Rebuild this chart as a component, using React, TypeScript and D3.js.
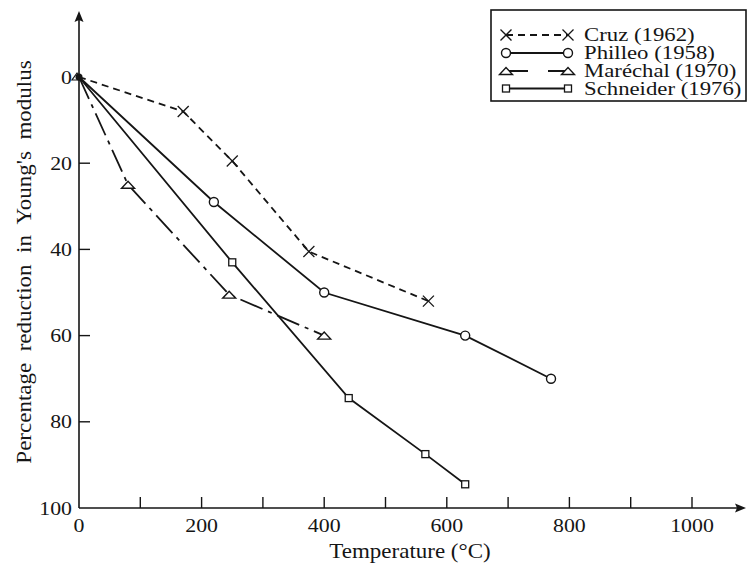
import React from "react";
import * as d3 from "d3";

const cruzT = [0, 170, 250, 375, 570];
const cruzR = [0, 8, 19.5, 40.5, 52];
const philleoT = [0, 220, 400, 630, 770];
const philleoR = [0, 29, 50, 60, 70];
const marechalT = [0, 80, 245, 400];
const marechalR = [0, 25, 50.5, 60];
const schneiderT = [0, 250, 440, 565, 630];
const schneiderR = [0, 43, 74.5, 87.5, 94.5];

const xTicks = [0, 200, 400, 600, 800, 1000];
const xMinor = [100, 200, 300, 400, 500, 600, 700, 800, 900, 1000];
const yTicks = [0, 20, 40, 60, 80, 100];

const seriesNames = ["Cruz (1962)", "Philleo (1958)", "Maréchal (1970)", "Schneider (1976)"];
const xLabel = "Temperature (°C)";
const yLabel = "Percentage  reduction  in  Young's  modulus";

const W = 747, H = 571;
const FONT = "'Liberation Serif', 'DejaVu Serif', serif";
const INK = "#151515";
const SX = 1.15;

type Kind = "x" | "circle" | "tri" | "square";

function Txt({
  x,
  y,
  size,
  anchor = "start",
  rotate = 0,
  children,
}: {
  x: number;
  y: number;
  size: number;
  anchor?: string;
  rotate?: number;
  children: React.ReactNode;
}) {
  return (
    <text
      transform={`translate(${x},${y}) rotate(${rotate}) scale(${SX},1)`}
      textAnchor={anchor}
      fontSize={size}
      fill={INK}
      style={{ whiteSpace: "pre" }}
    >
      {children}
    </text>
  );
}

function Marker({ kind, cx, cy }: { kind: Kind; cx: number; cy: number }) {
  if (kind === "x") {
    const s = 5.5;
    return (
      <g stroke={INK} strokeWidth={1.3}>
        <line x1={cx - s} y1={cy - s} x2={cx + s} y2={cy + s} />
        <line x1={cx - s} y1={cy + s} x2={cx + s} y2={cy - s} />
      </g>
    );
  }
  if (kind === "circle") {
    return <circle cx={cx} cy={cy} r={4.5} fill="white" stroke={INK} strokeWidth={1.4} />;
  }
  if (kind === "tri") {
    const w = 6.5, h = 7;
    return (
      <path
        d={`M${cx - w},${cy + h / 2} L${cx + w},${cy + h / 2} L${cx},${cy - h / 2} Z`}
        fill="white"
        stroke={INK}
        strokeWidth={1.4}
      />
    );
  }
  return <rect x={cx - 3.5} y={cy - 3.5} width={7} height={7} fill="white" stroke={INK} strokeWidth={1.3} />;
}

export default function App() {
  const x = d3.scaleLinear().domain([0, 1000]).range([79, 692]);
  const y = d3.scaleLinear().domain([0, 100]).range([77, 508]);

  const series: { t: number[]; r: number[]; kind: Kind; dash?: string }[] = [
    { t: cruzT, r: cruzR, kind: "x", dash: "7,5" },
    { t: philleoT, r: philleoR, kind: "circle" },
    { t: marechalT, r: marechalR, kind: "tri", dash: "24,6,4,6" },
    { t: schneiderT, r: schneiderR, kind: "square" },
  ];

  const line = d3
    .line<[number, number]>()
    .x((d) => x(d[0]))
    .y((d) => y(d[1]));

  const axisY = y(100);
  const axisX = x(0);

  const legX = 491, legY = 10, legW = 255, legH = 91;
  const rowY = [35, 53, 71, 88.5];
  const lx1 = 506, lx2 = 568;

  return (
    <svg
      width={W}
      height={H}
      style={{ position: "absolute", left: 0, top: 0, background: "white" }}
      fontFamily={FONT}
    >
      <rect width={W} height={H} fill="white" />
      {/* axes */}
      <line x1={axisX} y1={axisY} x2={740} y2={axisY} stroke={INK} strokeWidth={1.6} />
      <path d={`M746,${axisY} L735,${axisY - 4.5} L737,${axisY} L735,${axisY + 4.5} Z`} fill={INK} />
      <line x1={axisX} y1={axisY} x2={axisX} y2={18} stroke={INK} strokeWidth={1.6} />
      <path d={`M${axisX},11 L${axisX - 4.5},22 L${axisX},20 L${axisX + 4.5},22 Z`} fill={INK} />

      {xMinor.map((v) => (
        <line key={"xt" + v} x1={x(v)} x2={x(v)} y1={axisY} y2={axisY - 11} stroke={INK} strokeWidth={1.4} />
      ))}
      {yTicks
        .filter((v) => v > 0 && v < 100)
        .map((v) => (
          <line key={"yt" + v} x1={axisX} x2={axisX + 11} y1={y(v)} y2={y(v)} stroke={INK} strokeWidth={1.4} />
        ))}

      {xTicks.map((v) => (
        <Txt key={"xl" + v} x={x(v)} y={axisY + 24} size={19} anchor="middle">
          {v}
        </Txt>
      ))}
      {yTicks.map((v) => (
        <Txt key={"yl" + v} x={axisX - 7} y={y(v) + 6.5} size={19} anchor="end">
          {v}
        </Txt>
      ))}

      <Txt x={410} y={558} size={20} anchor="middle">
        {xLabel}
      </Txt>
      <Txt x={31} y={262} size={20} anchor="middle" rotate={-90}>
        {yLabel}
      </Txt>

      {/* series */}
      {series.map((s, i) => {
        const pts: [number, number][] = s.t.map((t, j) => [t, s.r[j]]);
        return (
          <g key={"s" + i}>
            <path d={line(pts) || ""} fill="none" stroke={INK} strokeWidth={1.8} strokeDasharray={s.dash} />
            {pts.slice(1).map((p, j) => (
              <Marker key={j} kind={s.kind} cx={x(p[0])} cy={y(p[1])} />
            ))}
          </g>
        );
      })}
      {/* origin blob */}
      <circle cx={x(0)} cy={y(0)} r={3.5} fill={INK} />
      <path d={`M${x(0) - 7},${y(0) + 3} L${x(0) + 2},${y(0) + 3} L${x(0) - 2},${y(0) - 4} Z`} fill="none" stroke={INK} strokeWidth={1.2} />

      {/* legend */}
      <rect x={legX} y={legY} width={legW} height={legH} fill="white" stroke={INK} strokeWidth={1.6} />
      {series.map((s, i) => (
        <g key={"lg" + i}>
          <line
            x1={lx1}
            x2={lx2}
            y1={rowY[i]}
            y2={rowY[i]}
            stroke={INK}
            strokeWidth={1.8}
            strokeDasharray={i === 0 ? "7,5" : i === 2 ? "22,20" : undefined}
          />
          <Marker kind={s.kind} cx={lx1} cy={rowY[i]} />
          <Marker kind={s.kind} cx={lx2} cy={rowY[i]} />
          <Txt x={584} y={rowY[i] + 6} size={19.8}>
            {seriesNames[i]}
          </Txt>
        </g>
      ))}
    </svg>
  );
}
